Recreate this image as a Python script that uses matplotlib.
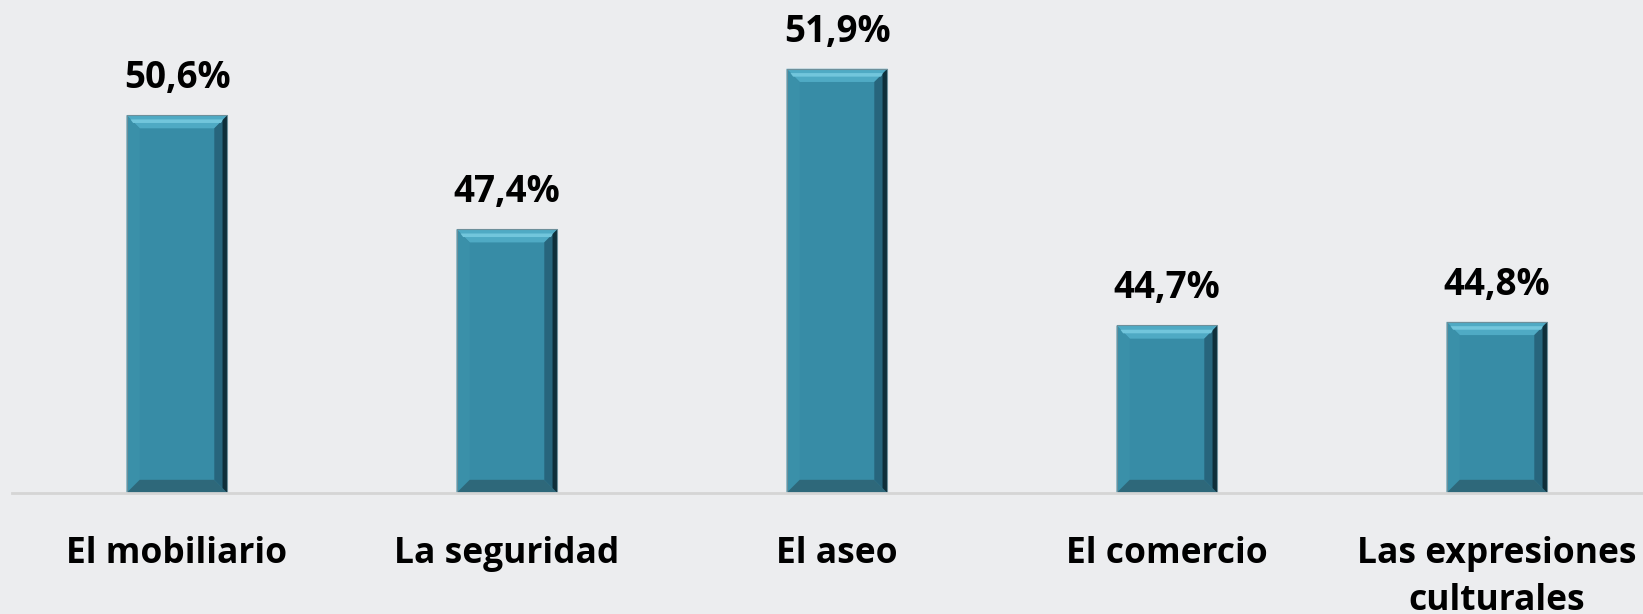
import matplotlib.pyplot as plt
from matplotlib.patches import Polygon
import numpy as np

categories = ["El mobiliario", "La seguridad", "El aseo", "El comercio", "Las expresiones\nculturales"]
values = [50.6, 47.4, 51.9, 44.7, 44.8]
labels = ["50,6%", "47,4%", "51,9%", "44,7%", "44,8%"]

bg = "#ECEDEF"
bar_color = "#378CA6"

plt.rcParams['font.family'] = ['Open Sans', 'DejaVu Sans']

fig = plt.figure(figsize=(16.43, 6.14), dpi=100, facecolor=bg)
ax = fig.add_axes([12 / 1643, 1 - 493 / 614, 1650 / 1643, 493 / 614])
ax.set_facecolor(bg)

x = np.arange(len(values))
w = 0.306
ax.bar(x, values, width=w, bottom=0, color=bar_color, zorder=2)
ax.set_xlim(-0.5, 4.5)
ax.set_ylim(40, 53.83)

# bevel edges (approx 13 px)
bx, by = 0.04, 0.37
for xi, v in zip(x, values):
    l, r, b, t = xi - w / 2, xi + w / 2, 40, v
    ax.add_patch(Polygon([(l, t), (r, t), (r - bx, t - by), (l + bx, t - by)],
                         closed=True, color="#4FAAC4", zorder=3, lw=0))
    ax.add_patch(Polygon([(l + 0.012, t - 0.12), (r - 0.012, t - 0.12), (r - 0.02, t - 0.22), (l + 0.02, t - 0.22)],
                         closed=True, color="#72C6DC", zorder=4, lw=0))
    ax.add_patch(Polygon([(l, t), (l + bx, t - by), (l + bx, b + by), (l, b)],
                         closed=True, color="#3A90A9", zorder=3, lw=0))
    ax.add_patch(Polygon([(r, t), (r - bx, t - by), (r - bx, b + by), (r, b)],
                         closed=True, color="#27657C", zorder=3, lw=0))
    ax.add_patch(Polygon([(r, t), (r - 0.015, t - 0.14), (r - 0.015, b + 0.14), (r, b)],
                         closed=True, color="#0F2F3A", zorder=4, lw=0))
    ax.add_patch(Polygon([(l, b), (r, b), (r - bx, b + by), (l + bx, b + by)],
                         closed=True, color="#2E687A", zorder=3, lw=0))
    ax.add_patch(Polygon([(l, t), (r, t), (r, b), (l, b)], closed=True, fill=False,
                         edgecolor="#6E8F9A", lw=0.8, zorder=5))
    ax.annotate(labels[xi], (xi, v), xytext=(0, 13), textcoords="offset points",
                ha="center", va="bottom", fontsize=26.5, fontweight="bold", color="black")

for s in ["top", "right", "left"]:
    ax.spines[s].set_visible(False)
ax.spines["bottom"].set_color("#D5D5D5")
ax.spines["bottom"].set_linewidth(2)
ax.spines["bottom"].set_zorder(5)
ax.set_yticks([])
ax.set_xticks(x)
ax.set_xticklabels(categories, fontsize=25.5, fontweight="bold", linespacing=1.42)
ax.tick_params(axis="x", length=0, pad=31)

fig.savefig("out.png", dpi=100, facecolor=bg)
